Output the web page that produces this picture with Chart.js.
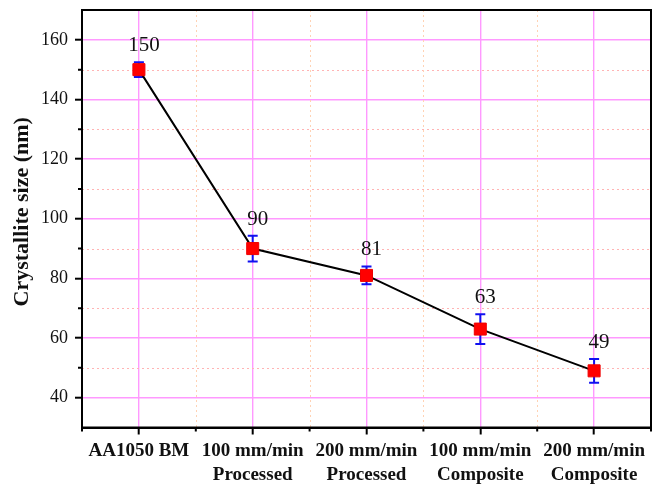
<!DOCTYPE html>
<html>
<head>
<meta charset="utf-8">
<title>Crystallite size</title>
<script src="https://cdn.jsdelivr.net/npm/chart.js@4.4.1/dist/chart.umd.min.js"></script>
<style>
  html, body { margin: 0; padding: 0; background: #ffffff; }
  canvas { display: block; }
</style>
</head>
<body>
<canvas id="chart" width="661" height="487"></canvas>
<script>
// Sample conditions (multi-line axis labels)
const categories = [
  ['AA1050 BM'],
  ['100 mm/min', 'Processed'],
  ['200 mm/min', 'Processed'],
  ['100 mm/min', 'Composite'],
  ['200 mm/min', 'Composite']
];
// Mean crystallite size (nm) and its error
const crystalliteSize = [150, 90, 81, 63, 49];
const sizeError = [2.5, 4.3, 3, 5, 4];
// Y axis ticks
const yTicks = [40, 60, 80, 100, 120, 140, 160];
const yMinorTicks = [50, 70, 90, 110, 130, 150];
const yTitle = 'Crystallite size (nm)';

const SERIF = '"Liberation Serif", "Times New Roman", serif';
const MAJOR_GRID = '#ff99ff';

// Dotted minor grid, minor tick marks, error bars, axis title, value labels
const extrasPlugin = {
  id: 'extras',
  beforeDatasetsDraw(chart) {
    const { ctx, chartArea: a, scales: { x, y } } = chart;
    const half = (x.getPixelForValue(1) - x.getPixelForValue(0)) / 2;
    ctx.save();
    ctx.lineWidth = 1;
    ctx.setLineDash([2, 3]);
    ctx.strokeStyle = '#ffb4b4';
    yMinorTicks.forEach(v => {
      const py = Math.round(y.getPixelForValue(v)) + 0.5;
      ctx.beginPath(); ctx.moveTo(a.left, py); ctx.lineTo(a.right, py); ctx.stroke();
    });
    ctx.strokeStyle = '#ffd2b4';
    for (let i = 0; i < categories.length - 1; i++) {
      const px = Math.round(x.getPixelForValue(i) + half) + 0.5;
      ctx.beginPath(); ctx.moveTo(px, a.top); ctx.lineTo(px, a.bottom); ctx.stroke();
    }
    ctx.setLineDash([]);

    // error bars
    ctx.strokeStyle = '#1010f0';
    ctx.lineWidth = 2;
    crystalliteSize.forEach((v, i) => {
      const px = x.getPixelForValue(i);
      const top = y.getPixelForValue(v + sizeError[i]);
      const bot = y.getPixelForValue(v - sizeError[i]);
      ctx.beginPath();
      ctx.moveTo(px, top); ctx.lineTo(px, bot);
      ctx.moveTo(px - 5, top); ctx.lineTo(px + 5, top);
      ctx.moveTo(px - 5, bot); ctx.lineTo(px + 5, bot);
      ctx.stroke();
    });
    ctx.restore();
  },
  afterDraw(chart) {
    const { ctx, chartArea: a, scales: { x, y } } = chart;
    const half = (x.getPixelForValue(1) - x.getPixelForValue(0)) / 2;
    ctx.save();
    // frame
    ctx.strokeStyle = '#000';
    ctx.lineWidth = 2;
    ctx.strokeRect(a.left, a.top, a.right - a.left, a.bottom - a.top);
    // minor ticks
    ctx.beginPath();
    yMinorTicks.forEach(v => {
      const py = y.getPixelForValue(v);
      ctx.moveTo(a.left - 4, py); ctx.lineTo(a.left, py);
    });
    for (let i = 0; i <= categories.length; i++) {
      const px = x.getPixelForValue(i) - half;
      ctx.moveTo(px, a.bottom); ctx.lineTo(px, a.bottom + 4);
    }
    ctx.stroke();

    // y axis title
    ctx.save();
    ctx.translate(22, (a.top + a.bottom) / 2 - 7);
    ctx.rotate(-Math.PI / 2);
    ctx.fillStyle = '#111';
    ctx.font = 'bold 22px ' + SERIF;
    ctx.textAlign = 'center';
    ctx.textBaseline = 'middle';
    ctx.fillText(yTitle, 0, 0);
    ctx.restore();

    // value labels above each point
    ctx.fillStyle = '#111';
    ctx.font = '21px ' + SERIF;
    ctx.textAlign = 'center';
    ctx.textBaseline = 'alphabetic';
    crystalliteSize.forEach((v, i) => {
      const px = x.getPixelForValue(i) + 5;
      const py = y.getPixelForValue(v + sizeError[i]) - 11;
      ctx.fillText(String(v), px, py);
    });
    ctx.restore();
  }
};

new Chart(document.getElementById('chart'), {
  type: 'line',
  data: {
    labels: categories,
    datasets: [{
      data: crystalliteSize,
      borderColor: '#000',
      borderWidth: 2,
      tension: 0,
      pointStyle: 'rect',
      pointRadius: 8.5,
      pointBackgroundColor: '#ff0000',
      pointBorderColor: '#ee0000',
      pointBorderWidth: 1
    }]
  },
  options: {
    responsive: false,
    animation: false,
    devicePixelRatio: 1,
    layout: { padding: { top: 10, right: 10, left: 0, bottom: 0 } },
    plugins: { legend: { display: false }, tooltip: { enabled: false } },
    scales: {
      x: {
        type: 'category',
        offset: true,
        grid: { color: MAJOR_GRID, lineWidth: 1.4, tickColor: '#000', tickLength: 7, tickWidth: 2 },
        border: { color: '#000', width: 2 },
        ticks: {
          color: '#111', padding: 4, maxRotation: 0, autoSkip: false,
          font: { family: SERIF, size: 19, weight: 'bold', lineHeight: 1.3 }
        },
        afterFit(s) { s.height = 59.5; s.paddingLeft = 0; s.paddingRight = 0; }
      },
      y: {
        type: 'linear',
        min: 30,
        max: 170,
        afterBuildTicks(s) { s.ticks = yTicks.map(v => ({ value: v })); },
        grid: { color: MAJOR_GRID, lineWidth: 1.4, tickColor: '#000', tickLength: 7, tickWidth: 2 },
        border: { color: '#000', width: 2 },
        ticks: { color: '#111', padding: 7, font: { family: SERIF, size: 18 } },
        afterFit(s) { s.width = 82; s.paddingTop = 0; s.paddingBottom = 0; }
      }
    }
  },
  plugins: [extrasPlugin]
});
</script>
</body>
</html>
